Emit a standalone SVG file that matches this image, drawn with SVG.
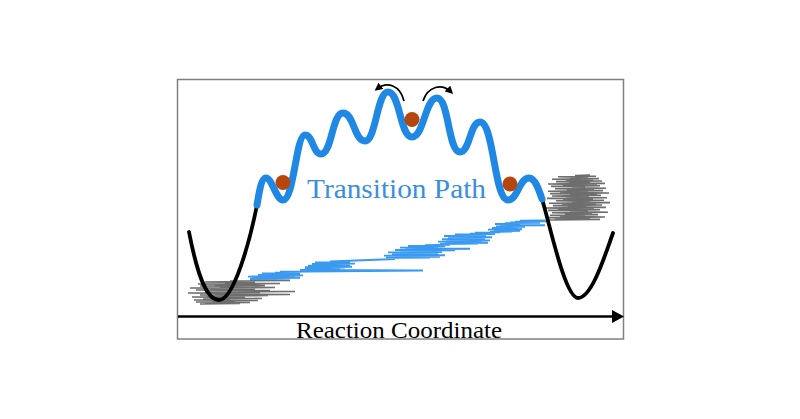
<svg xmlns="http://www.w3.org/2000/svg" width="800" height="419" viewBox="0 0 800 419">
<style>
.frame{fill:none;stroke:#808080;stroke-width:1.5}
.well{fill:none;stroke:#000;stroke-width:3.8;stroke-linecap:round}
.path{fill:none;stroke:#1f88e5;stroke-width:7;stroke-linecap:round}
.ball{fill:#b4460e}
.trajg{fill:none;stroke:#6e6e6e;stroke-width:1.6}
.trajb{fill:none;stroke:#3a9af0;stroke-width:1.9}
.hop{fill:none;stroke:#000;stroke-width:1.8}
.lbl{font-family:"Liberation Serif","DejaVu Serif",serif}
</style>
<defs>
<marker id="ah" markerWidth="8" markerHeight="8" refX="5" refY="4" orient="auto" markerUnits="userSpaceOnUse">
<path d="M0,0 L8,4 L0,8 Z" fill="#000"/>
</marker>
</defs>
<rect width="800" height="419" fill="#fff"/>
<rect class="frame" x="177.5" y="79.5" width="446" height="259.5"/>
<g id="trajectory">
<polyline class="trajg" points="200,304 240,303.5 205,303 250,302.5 196,302 235,301.5 212,301 258,300.5 194,300 230,299.5 203,299 262,298.5 210,298 245,297.5 192,297 228,296.5 207,296 268,295.5 200,295 290,294.5 215,294 250,293.5 188,293 260,292.5 205,292 295,291.5 230,291 270,290.5 196,290 255,289.5 210,289 240,288.5 190,288 275,287.5 220,287 250,286.5 200,286 265,285.5 215,285 245,284.5 198,284 280,283.5 225,283 255,282.5 205,282 240,281.5 230,281 290,280.5 250,280"/>
<polyline class="trajb" points="250,279 290,278.6 252,278.2 300,277.8 262,277.4 285,277 248,276.6 295,276.2 265,275.8 303,275.4 258,275 288,274.6 270,274.2 300,273.8 262,273.4 290,273 275,272.6 298,272.2 280,271.8 423,270.5 300,270 340,269.5 305,269 310,268 345,267.6 305,267.2 352,266.8 318,266.4 340,266 308,265.6 350,265.2 322,264.8 345,264.4 312,264 355,263.6 325,263.2 340,262.8 315,262.4 350,262 330,261.5 395,259 390,258 430,257.6 386,257.2 440,256.8 398,256.4 425,256 384,255.6 445,255.2 405,254.8 432,254.4 392,254 438,253.6 410,253.2 428,252.8 388,252.4 442,252 400,251.6 430,251.2 412,250.8 455,250.4 395,250 435,249.6 405,249.2 470,248.8 415,248.4 438,248 400,247.6 432,247.2 418,246.8 445,246.4 408,246 436,245.6 425,245.2 450,244.8 440,244 478,243.6 445,243.2 488,242.8 452,242.4 470,242 438,241.6 482,241.2 455,240.8 490,240.4 446,240 475,239.6 442,239.2 485,238.8 460,238.4 478,238 448,237.6 492,237.2 458,236.8 476,236.4 444,236 486,235.6 465,235.2 480,234.8 455,234.4 495,234 470,233.6 488,233.2 475,232.8 500,232.4 490,232 512,231.6 494,231.2 520,230.8 498,230.4 515,230 488,229.6 522,229.2 500,228.8 514,228.4 492,228 518,227.6 505,227.2 525,226.8 496,226.4 516,226 508,225.6 545,225.2 500,224.8 520,224.4 495,224 518,223.6 505,223.2 540,222.8 510,222.4 525,222 515,221.6 548,221.2 520,220.8 545,220.4"/>
<polyline class="trajg" points="548,220 600,219.4 555,218.8 590,218.2 546,217.6 605,217 560,216.4 585,215.8 550,215.2 598,214.6 565,214 592,213.4 552,212.8 608,212.2 570,211.6 588,211 548,210.4 600,209.8 558,209.2 594,208.6 545,208 606,207.4 568,206.8 586,206.2 553,205.6 602,205 562,204.4 596,203.8 549,203.2 610,202.6 572,202 590,201.4 556,200.8 604,200.2 563,199.6 593,199 547,198.4 607,197.8 566,197.2 589,196.6 552,196 601,195.4 570,194.8 597,194.2 550,193.6 609,193 560,192.4 588,191.8 548,191.2 603,190.6 567,190 594,189.4 555,188.8 606,188.2 572,187.6 585,187 551,186.4 600,185.8 563,185.2 597,184.6 548,184 605,183.4 569,182.8 590,182.2 556,181.6 602,181 566,180.4 593,179.8 552,179.2 599,178.6 570,178 588,177.4 558,176.8 596,176.2 575,175.6 590,175"/>
</g>
<g id="potential">
<path class="well" d="M189,232 C196,268 205,300 219,300 C234,300 250,240 257,205"/>
<path class="well" d="M542,199 C550,225 565,298 578,298 C592,298 605,255 613,233"/>
<path class="path" d="M257,205 C259,194 261,178 266,178 C272,178 276,200 283,200 C294,200 296,135 305,135 C313,135 313,154 321,154 C332,154 332,113 343,113 C354,113 354,141 365,141 C376,141 377,92 388,92 C400,92 400,137 412,137 C424,137 425,98 437,98 C449,98 448,152 460,152 C470,152 470,122 480,122 C494,122 494,200 508,200 C518,200 519,178 529,178 C535,178 539,190 542,199"/>
</g>
<g id="balls">
<circle class="ball" cx="283" cy="182.5" r="7.5"/>
<circle class="ball" cx="412" cy="119.5" r="7.5"/>
<circle class="ball" cx="510" cy="184" r="7.5"/>
</g>
<g id="hops">
<path class="hop" d="M404,101 C400,85 387,81 377,89" marker-end="url(#ah)"/>
<path class="hop" d="M423,101 C428,86 442,83 451,92" marker-end="url(#ah)"/>
</g>
<g id="axis">
<line x1="178" y1="316.5" x2="614" y2="316.5" stroke="#000" stroke-width="2.6"/>
<polygon points="612,310 624,316.5 612,323" fill="#000"/>
</g>
<text class="lbl" x="307" y="198" font-size="28" fill="#3a8ee0" textLength="179" lengthAdjust="spacingAndGlyphs">Transition Path</text>
<text class="lbl" x="296" y="338" font-size="23" fill="#000" textLength="206" lengthAdjust="spacingAndGlyphs">Reaction Coordinate</text>
</svg>
